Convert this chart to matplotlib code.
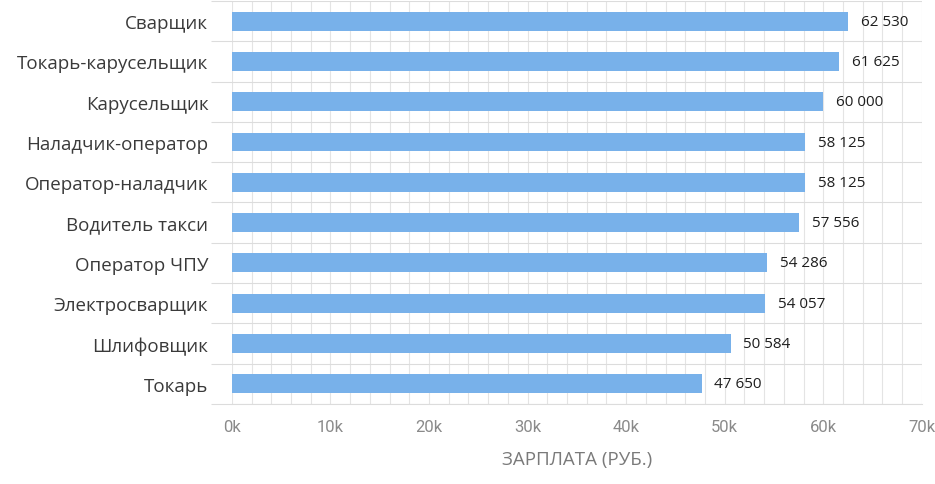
import numpy as np
import matplotlib.pyplot as plt
from matplotlib.ticker import MultipleLocator, FuncFormatter

professions = ["Сварщик", "Токарь-карусельщик", "Карусельщик", "Наладчик-оператор",
               "Оператор-наладчик", "Водитель такси", "Оператор ЧПУ",
               "Электросварщик", "Шлифовщик", "Токарь"]
salaries = [62530, 61625, 60000, 58125, 58125, 57556, 54286, 54057, 50584, 47650]

plt.rcParams['font.family'] = ['Open Sans', 'DejaVu Sans']

fig = plt.figure(figsize=(9.35, 4.85), dpi=100)
ax = fig.add_axes([0.248, 0.165, 0.738, 0.831])

y = np.arange(len(professions))
ax.barh(y, salaries, height=0.47, color="#78b1ea", zorder=3)

for yi, v in zip(y, salaries):
    txt = f"{v:,}".replace(",", " ")
    ax.text(v + 1300, yi, txt, va="center", ha="left", fontsize=11, color="#1e1e1e", zorder=4)

ax.set_xlim(0, 70000)
ax.set_ylim(len(professions) - 0.5, -0.5)

# сетка
ax.xaxis.set_major_locator(MultipleLocator(10000))
ax.xaxis.set_minor_locator(MultipleLocator(2000))
ax.xaxis.set_major_formatter(FuncFormatter(lambda v, p: f"{int(v/1000)}k"))
ax.grid(axis="x", which="both", color="#e4e4e4", linewidth=0.8, zorder=0)

ax.set_yticks(y)
ax.set_yticklabels(professions, fontsize=13.5, color="#3a3a3a")
ax.set_yticks(np.arange(-0.5, len(professions), 1), minor=True)
ax.grid(axis="y", which="minor", color="#dcdcdc", linewidth=0.8, zorder=0)
ax.tick_params(axis="y", which="major", length=0, pad=17)
ax.tick_params(axis="y", which="minor", length=15, color="#dcdcdc", width=0.8)
ax.tick_params(axis="x", which="both", length=0, pad=11, labelcolor="#8a8a8a")
for lab in ax.get_xticklabels():
    lab.set_family(['Roboto', 'DejaVu Sans'])
    lab.set_fontsize(12)

for s in ["top", "right", "left"]:
    ax.spines[s].set_visible(False)
ax.spines["bottom"].set_color("#dcdcdc")

ax.set_xlabel("ЗАРПЛАТА (РУБ.)", fontsize=13.5, color="#7a7a7a", labelpad=11)

plt.savefig("out.png", dpi=100)
